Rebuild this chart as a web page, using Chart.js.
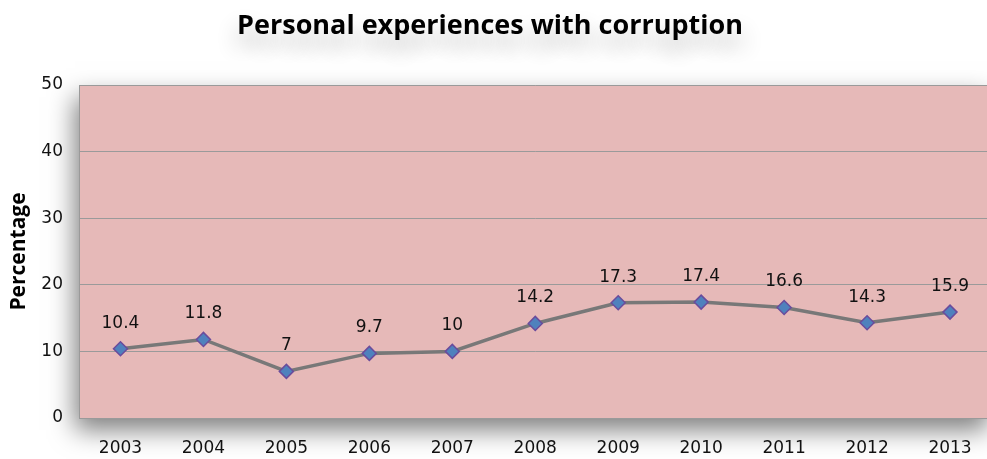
<!DOCTYPE html>
<html>
<head>
<meta charset="utf-8">
<script src="https://cdn.jsdelivr.net/npm/chart.js@4/dist/chart.umd.min.js"></script>
<style>
  html, body { margin: 0; padding: 0; background: #fff; overflow: hidden; }
  #wrap { width: 1000px; height: 459px; }
</style>
</head>
<body>
<div id="wrap"><canvas id="chart"></canvas></div>
<script>
const years = ['2003', '2004', '2005', '2006', '2007', '2008', '2009', '2010', '2011', '2012', '2013'];
const percentages = [10.4, 11.8, 7, 9.7, 10, 14.2, 17.3, 17.4, 16.6, 14.3, 15.9];
const yTicks = [0, 10, 20, 30, 40, 50];

const titleText = 'Personal experiences with corruption';

// Pink plot area with a soft shadow, plus the shadowed heading
const backdrop = {
    id: 'backdrop',
    beforeDraw(chart) {
        const { ctx, chartArea: a } = chart;
        ctx.save();
        ctx.shadowColor = 'rgba(0,0,0,0.5)';
        ctx.shadowBlur = 24;
        ctx.shadowOffsetX = -4;
        ctx.shadowOffsetY = 12;
        ctx.fillStyle = '#E6B9B8';
        ctx.fillRect(a.left, a.top, a.right - a.left, a.bottom - a.top);
        ctx.restore();

        ctx.save();
        ctx.font = 'bold 27px "Open Sans"';
        ctx.textAlign = 'center';
        ctx.textBaseline = 'middle';
        ctx.shadowColor = 'rgba(0,0,0,0.3)';
        ctx.shadowBlur = 22;
        ctx.shadowOffsetY = 14;
        ctx.fillStyle = '#000';
        ctx.fillText(titleText, 490, 26);
        ctx.restore();
    }
};

// Value labels above each point
const valueLabels = {
    id: 'valueLabels',
    afterDatasetsDraw(chart) {
        const { ctx } = chart;
        const meta = chart.getDatasetMeta(0);
        ctx.save();
        ctx.font = '17px "DejaVu Sans"';
        ctx.textAlign = 'center';
        ctx.textBaseline = 'bottom';
        ctx.fillStyle = '#111';
        meta.data.forEach((pt, i) => {
            ctx.fillText(String(percentages[i]), pt.x, pt.y - 17);
        });
        ctx.restore();
    }
};

new Chart(document.getElementById('chart'), {
    type: 'line',
    data: {
        labels: years,
        datasets: [{
            data: percentages,
            borderColor: '#787878',
            borderWidth: 3.5,
            pointStyle: 'rectRot',
            pointRadius: 7,
            pointBackgroundColor: '#4F81BD',
            pointBorderColor: '#6A4C9C',
            pointBorderWidth: 1.5,
            tension: 0
        }]
    },
    options: {
        responsive: true,
        maintainAspectRatio: false,
        animation: false,
        layout: { padding: { top: 85, left: 0, right: 3, bottom: 0 } },
        plugins: {
            legend: { display: false },
            tooltip: { enabled: false }
        },
        scales: {
            x: {
                offset: true,
                grid: { display: false, drawTicks: false },
                border: { color: '#9A9A9A', width: 1 },
                ticks: {
                    color: '#111',
                    padding: 20,
                    font: { family: 'DejaVu Sans', size: 17 }
                },
                afterFit(axis) { axis.height = 41; }
            },
            y: {
                min: 0,
                max: 50,
                afterBuildTicks(axis) { axis.ticks = yTicks.map(v => ({ value: v })); },
                grid: { color: '#9A9A9A', lineWidth: 1, drawTicks: false },
                border: { color: '#9A9A9A', width: 1 },
                ticks: {
                    color: '#111',
                    padding: 16,
                    font: { family: 'DejaVu Sans', size: 17 }
                },
                title: {
                    display: true,
                    text: 'Percentage',
                    color: '#000',
                    padding: { top: 6, bottom: 0 },
                    font: { family: 'Open Sans', size: 21, weight: 'bold' }
                },
                afterFit(axis) { axis.width = 79; }
            }
        }
    },
    plugins: [backdrop, valueLabels]
});
</script>
</body>
</html>
